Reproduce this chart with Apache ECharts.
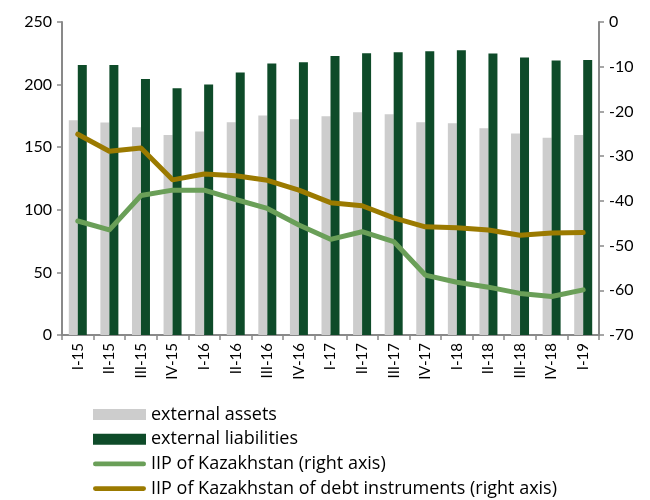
<!DOCTYPE html>
<html>
<head>
<meta charset="utf-8">
<script src="https://cdn.jsdelivr.net/npm/echarts@6/dist/echarts.min.js"></script>
<style>
  html, body { margin: 0; padding: 0; background: #fff; }
  #main { width: 650px; height: 500px; }
</style>
</head>
<body>
<div id="main"></div>
<script>
// quarters
var categories = ['I-15', 'II-15', 'III-15', 'IV-15', 'I-16', 'II-16', 'III-16', 'IV-16',
  'I-17', 'II-17', 'III-17', 'IV-17', 'I-18', 'II-18', 'III-18', 'IV-18', 'I-19'];
// left axis
var externalAssets = [171.5, 169.7, 166.0, 159.8, 162.5, 170.0, 175.3, 172.3,
  174.7, 177.9, 176.3, 170.0, 169.2, 165.2, 160.9, 157.5, 159.8];
var externalLiabilities = [215.7, 215.7, 204.5, 197.1, 200.0, 209.6, 216.8, 217.9,
  222.9, 225.0, 225.8, 226.6, 227.4, 224.8, 221.6, 219.2, 219.7];
// right axis
var iip = [-44.5, -46.5, -38.8, -37.6, -37.6, -39.7, -41.7, -45.4,
  -48.6, -46.9, -49.1, -56.6, -58.2, -59.3, -60.7, -61.4, -59.9];
var iipDebt = [-25.1, -28.9, -28.2, -35.3, -34.0, -34.4, -35.4, -37.6,
  -40.4, -41.1, -43.8, -45.8, -46.0, -46.5, -47.7, -47.2, -47.1];

var FONT = 'Lato';
var axisGray = '#898989';
// thick line with round ends for the legend
var lineIcon = 'path://M2.5,0 L53.5,0 A2.5,2.5 0 0 1 53.5,5 L2.5,5 A2.5,2.5 0 0 1 2.5,0 Z';

var chart = echarts.init(document.getElementById('main'));
chart.setOption({
  animation: false,
  textStyle: { fontFamily: FONT },
  grid: { left: 62, right: 51, top: 22, bottom: 165 },
  legend: {
    orient: 'vertical',
    left: 93,
    top: 405,
    padding: 0,
    itemWidth: 53,
    itemHeight: 11,
    itemGap: 5.7,
    textStyle: { fontFamily: 'Open Sans', fontSize: 18, lineHeight: 19, color: '#000' },
    data: [
      { name: 'external assets', icon: 'rect' },
      { name: 'external liabilities', icon: 'rect' },
      { name: 'IIP of Kazakhstan (right axis)', icon: lineIcon },
      { name: 'IIP of Kazakhstan of debt instruments (right axis)', icon: lineIcon }
    ]
  },
  xAxis: {
    type: 'category',
    data: categories,
    axisLine: { lineStyle: { color: axisGray, width: 2 } },
    axisTick: { show: true, length: 5, lineStyle: { color: axisGray, width: 1.5 } },
    axisLabel: { rotate: 90, fontSize: 15, color: '#000', margin: 8, fontFamily: FONT }
  },
  yAxis: [
    {
      type: 'value', min: 0, max: 250, interval: 50,
      axisLine: { show: true, lineStyle: { color: axisGray, width: 2 } },
      axisTick: { show: true, length: 5, lineStyle: { color: axisGray, width: 1.5 } },
      splitLine: { show: false },
      axisLabel: { fontSize: 16, color: '#000', margin: 10, fontFamily: FONT }
    },
    {
      type: 'value', min: -70, max: 0, interval: 10,
      axisLine: { show: true, lineStyle: { color: axisGray, width: 2 } },
      axisTick: { show: true, length: 5, lineStyle: { color: axisGray, width: 1.5 } },
      splitLine: { show: false },
      axisLabel: { fontSize: 16, color: '#000', margin: 10, fontFamily: FONT }
    }
  ],
  series: [
    {
      name: 'external assets', type: 'bar', data: externalAssets,
      barWidth: 9, barGap: '0%',
      itemStyle: { color: '#cdcdcd' }
    },
    {
      name: 'external liabilities', type: 'bar', data: externalLiabilities,
      barWidth: 9,
      itemStyle: { color: '#0e4b29' }
    },
    {
      name: 'IIP of Kazakhstan (right axis)', type: 'line', yAxisIndex: 1,
      data: iip, symbol: 'none',
      lineStyle: { color: '#6a9f58', width: 5, cap: 'round', join: 'round' },
      itemStyle: { color: '#6a9f58' }
    },
    {
      name: 'IIP of Kazakhstan of debt instruments (right axis)', type: 'line', yAxisIndex: 1,
      data: iipDebt, symbol: 'none',
      lineStyle: { color: '#9b7a00', width: 5, cap: 'round', join: 'round' },
      itemStyle: { color: '#9b7a00' }
    }
  ]
});
</script>
</body>
</html>
